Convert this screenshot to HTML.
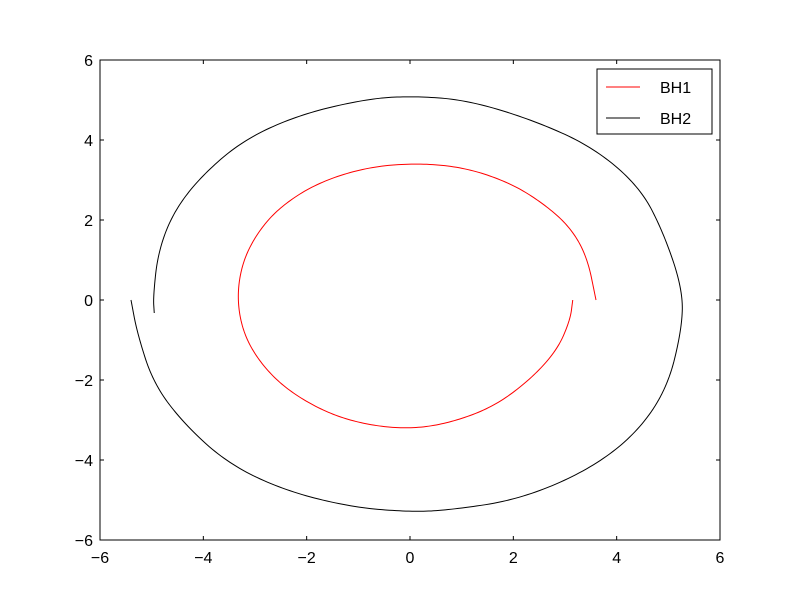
<!DOCTYPE html>
<html><head><meta charset="utf-8"><style>
body{margin:0;background:#fff;}
svg text{font-family:"Liberation Sans","DejaVu Sans",sans-serif;font-size:16px;fill:#000;}
</style></head><body>
<svg width="800" height="600" viewBox="0 0 800 600" id="chart">
<rect x="0" y="0" width="800" height="600" fill="#fff"/>
<g id="plot"></g>
<rect x="100" y="60" width="620" height="480" fill="none" stroke="#000" stroke-width="1"/>
<g id="ticks"></g>
<g>
<rect x="597" y="69" width="115" height="65" fill="#fff" stroke="#000"/>
<line x1="606" y1="87" x2="640" y2="87" stroke="red"/>
<text x="660" y="93">BH1</text>
<line x1="606" y1="118" x2="640" y2="118" stroke="#000"/>
<text x="660" y="124">BH2</text>
</g>
</svg>
<script>
const xTicks=[-6,-4,-2,0,2,4,6];
const yTicks=[-6,-4,-2,0,2,4,6];
const bh1X=[3.60,3.43,3.10,2.57,1.94,1.10,0.19,-0.83,-1.80,-2.52,-2.96,-3.25,-3.35,-3.23,-2.90,-2.38,-1.61,-0.83,0.00,0.77,1.61,2.32,2.85,3.10,3.15];
const bh1Y=[0,1.075,1.825,2.425,2.925,3.3,3.425,3.325,2.925,2.325,1.675,0.925,0.05,-0.825,-1.575,-2.25,-2.825,-3.125,-3.225,-3.075,-2.675,-2.0,-1.25,-0.5,0];
const bh2X=[-5.40,-5.28,-4.97,-4.39,-3.54,-2.46,-1.16,0.00,0.77,2.07,3.35,4.32,4.97,5.26,5.28,4.91,4.45,3.54,2.38,1.10,0.05,-0.83,-2.13,-3.23,-4.06,-4.59,-4.88,-4.97,-4.95];
const bh2Y=[0,-0.825,-2.075,-3.075,-4.075,-4.75,-5.175,-5.3,-5.25,-5.0,-4.325,-3.425,-2.25,-0.75,0.25,1.675,2.825,3.825,4.5,5.0,5.1,5.03,4.64,4.0,3.075,2.175,1.175,0.075,-0.325];
const NS='http://www.w3.org/2000/svg';
const sx=v=>100+(v+6)*620/12;
const sy=v=>300-v*40;
function chaikin(p){
  const out=[p[0]];
  for(let i=0;i<p.length-1;i++){
    const a=p[i],b=p[i+1];
    out.push([0.75*a[0]+0.25*b[0],0.75*a[1]+0.25*b[1]]);
    out.push([0.25*a[0]+0.75*b[0],0.25*a[1]+0.75*b[1]]);
  }
  out.push(p[p.length-1]);
  return out;
}
function pathFor(xs,ys){
  let p=xs.map((x,i)=>[sx(x),sy(ys[i])]);
  for(let k=0;k<4;k++)p=chaikin(p);
  return 'M'+p.map(q=>q[0].toFixed(2)+','+q[1].toFixed(2)).join(' L');
}
const plot=document.getElementById('plot');
[[bh1X,bh1Y,'red','series-bh1'],[bh2X,bh2Y,'#000','series-bh2']].forEach(s=>{
  const el=document.createElementNS(NS,'path');
  el.setAttribute('d',pathFor(s[0],s[1]));
  el.setAttribute('fill','none');el.setAttribute('stroke',s[2]);
  el.setAttribute('stroke-linejoin','round');
  
  
  plot.appendChild(el);
});
const tg=document.getElementById('ticks');
function ln(x1,y1,x2,y2){const l=document.createElementNS(NS,'line');
l.setAttribute('x1',x1);l.setAttribute('y1',y1);l.setAttribute('x2',x2);l.setAttribute('y2',y2);l.setAttribute('stroke','#000');


tg.appendChild(l);}
const fmt=v=>v<0?'\u2212'+(-v):''+v;
xTicks.forEach(v=>{const x=sx(v);ln(x,540,x,536);ln(x,60,x,64);
 const t=document.createElementNS(NS,'text');t.setAttribute('x',x);t.setAttribute('y',563);t.setAttribute('text-anchor','middle');t.textContent=fmt(v);
 
 
 tg.appendChild(t);});
yTicks.forEach(v=>{const y=sy(v);ln(100,y,104,y);ln(720,y,716,y);
 const t=document.createElementNS(NS,'text');t.setAttribute('x',93);t.setAttribute('y',y+6);t.setAttribute('text-anchor','end');t.textContent=fmt(v);
 
 
 tg.appendChild(t);});
</script>
</body></html>
